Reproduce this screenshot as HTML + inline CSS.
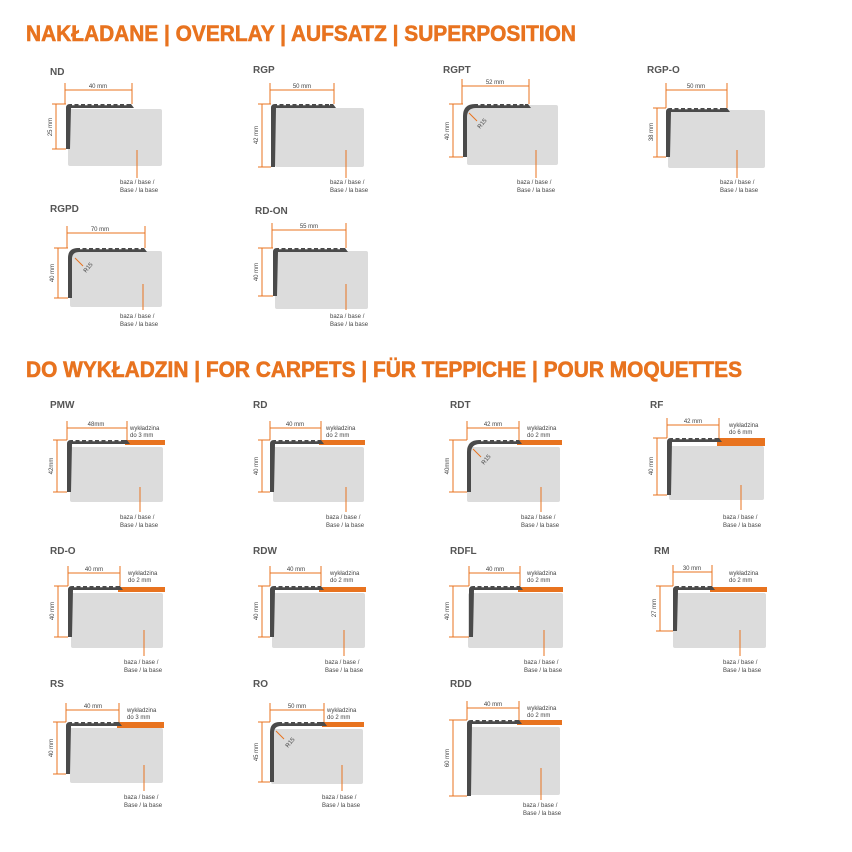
<!DOCTYPE html>
<html><head><meta charset="utf-8"><style>
html,body{margin:0;padding:0;background:#fff}
svg{display:block}
.h{font-family:"Liberation Sans",sans-serif;font-weight:bold;font-size:22px;fill:#e8731f;stroke:#e8731f;stroke-width:0.6}
.t{font-family:"Liberation Sans",sans-serif;font-weight:bold;font-size:10px;fill:#555}
.s{font-family:"Liberation Sans",sans-serif;font-size:6px;fill:#444}
.o{stroke:#e8731f;stroke-width:1;fill:none}
.b{fill:#dcdcdc}
.p{fill:#4a4a4a}
.n{stroke:#fff;stroke-width:1.5;stroke-dasharray:2.5 4;fill:none}
.st{fill:#e8731f}
</style></head><body>
<svg width="852" height="852" viewBox="0 0 852 852" xmlns="http://www.w3.org/2000/svg">
<text class="h" x="26" y="41" textLength="550" lengthAdjust="spacingAndGlyphs">NAKŁADANE | OVERLAY | AUFSATZ | SUPERPOSITION</text>
<text class="h" x="26" y="377" textLength="716" lengthAdjust="spacingAndGlyphs">DO WYKŁADZIN | FOR CARPETS | FÜR TEPPICHE | POUR MOQUETTES</text>

<!-- ND -->
<text class="t" x="50" y="75">ND</text>
<rect class="b" x="68" y="109" width="94" height="57" rx="2"/>
<path class="p" d="M66,149 L66,108 Q66,104 70,104 L131,104 L134,108 L71,108 L70,149Z"/>
<line class="n" x1="72" y1="104.5" x2="128" y2="104.5"/>
<path class="o" d="M65,83V104 M132,83V104 M65,90H132 M52,104H66 M52,149H66 M56,104V149 M137,150V178"/>
<text class="s" x="98" y="88" text-anchor="middle">40 mm</text>
<text class="s" transform="translate(52,127) rotate(-90)" text-anchor="middle">25 mm</text>
<text class="s" x="120" y="184">baza / base /</text><text class="s" x="120" y="192">Base / la base</text>

<!-- RGP -->
<text class="t" x="253" y="73">RGP</text>
<rect class="b" x="275" y="108" width="89" height="59" rx="2"/>
<path class="p" d="M271,167 L271,108 Q271,104 275,104 L333,104 L336,108 L276,108 L275,167Z"/>
<line class="n" x1="277" y1="104.5" x2="330" y2="104.5"/>
<path class="o" d="M270,83V104 M334,83V104 M270,90H334 M258,104H271 M258,167H271 M262,104V167 M346,150V178"/>
<text class="s" x="302" y="88" text-anchor="middle">50 mm</text>
<text class="s" transform="translate(258,135) rotate(-90)" text-anchor="middle">42 mm</text>
<text class="s" x="330" y="184">baza / base /</text><text class="s" x="330" y="192">Base / la base</text>

<!-- RGPT -->
<text class="t" x="443" y="73">RGPT</text>
<rect class="b" x="467" y="105" width="91" height="60" rx="2"/>
<path class="p" d="M463,157 L463,116 Q463,104 475,104 L528,104 L531,108 L476,108 Q467,108 467,117 L467,157Z"/>
<line class="n" x1="478" y1="104.5" x2="525" y2="104.5"/>
<path class="o" d="M462,79V104 M529,79V104 M462,86H529 M449,104H463 M449,157H463 M453,104V157 M536,150V178 M469,113L477,121"/>
<text class="s" x="495" y="84" text-anchor="middle">52 mm</text>
<text class="s" transform="translate(449,131) rotate(-90)" text-anchor="middle">40 mm</text>
<text class="s" transform="translate(480,129) rotate(-50)">R15</text>
<text class="s" x="517" y="184">baza / base /</text><text class="s" x="517" y="192">Base / la base</text>

<!-- RGP-O -->
<text class="t" x="647" y="73">RGP-O</text>
<rect class="b" x="668" y="110" width="97" height="58" rx="2"/>
<path class="p" d="M666,157 L666,112 Q666,108 670,108 L727,108 L730,112 L671,112 L670,157Z"/>
<line class="n" x1="672" y1="108.5" x2="724" y2="108.5"/>
<path class="o" d="M666,83V108 M727,83V108 M666,90H727 M653,108H666 M653,157H666 M657,108V157 M737,150V178"/>
<text class="s" x="696" y="88" text-anchor="middle">50 mm</text>
<text class="s" transform="translate(653,132) rotate(-90)" text-anchor="middle">38 mm</text>
<text class="s" x="720" y="184">baza / base /</text><text class="s" x="720" y="192">Base / la base</text>

<!-- RGPD -->
<text class="t" x="50" y="212">RGPD</text>
<rect class="b" x="70" y="251" width="92" height="56" rx="2"/>
<path class="p" d="M68,298 L68,258 Q68,248 78,248 L144,248 L147,252 L79,252 Q72,252 72,259 L72,298Z"/>
<line class="n" x1="80" y1="248.5" x2="141" y2="248.5"/>
<path class="o" d="M67,226V248 M145,226V248 M67,233H145 M54,248H68 M54,298H68 M58,248V298 M143,284V310 M75,258L83,266"/>
<text class="s" x="100" y="231" text-anchor="middle">70 mm</text>
<text class="s" transform="translate(54,273) rotate(-90)" text-anchor="middle">40 mm</text>
<text class="s" transform="translate(86,273) rotate(-50)">R15</text>
<text class="s" x="120" y="318">baza / base /</text><text class="s" x="120" y="326">Base / la base</text>

<!-- RD-ON -->
<text class="t" x="255" y="214">RD-ON</text>
<rect class="b" x="275" y="251" width="93" height="58" rx="2"/>
<path class="p" d="M273,296 L273,252 Q273,248 277,248 L345,248 L348,252 L278,252 L277,296Z"/>
<line class="n" x1="279" y1="248.5" x2="342" y2="248.5"/>
<path class="o" d="M272,223V248 M346,223V248 M272,230H346 M258,248H273 M258,296H273 M262,248V296 M346,284V310"/>
<text class="s" x="309" y="228" text-anchor="middle">55 mm</text>
<text class="s" transform="translate(258,272) rotate(-90)" text-anchor="middle">40 mm</text>
<text class="s" x="330" y="318">baza / base /</text><text class="s" x="330" y="326">Base / la base</text>

<!-- PMW -->
<text class="t" x="50" y="408">PMW</text>
<rect class="b" x="70" y="447" width="93" height="55" rx="2"/>
<rect class="st" x="125" y="440" width="40" height="5"/>
<path class="p" d="M67,492 L67,444 Q67,440 71,440 L127,440 L130,444 L72,444 L71,492Z"/>
<line class="n" x1="73" y1="440.5" x2="124" y2="440.5"/>
<path class="o" d="M67,421V440 M127,421V440 M67,428H127 M53,440H67 M53,492H67 M57,440V492 M140,487V512"/>
<text class="s" x="96" y="426" text-anchor="middle">48mm</text>
<text class="s" transform="translate(53,466) rotate(-90)" text-anchor="middle">42mm</text>
<text class="s" x="130" y="430">wykładzina</text><text class="s" x="130" y="437">do 3 mm</text>
<text class="s" x="120" y="519">baza / base /</text><text class="s" x="120" y="527">Base / la base</text>

<!-- RD -->
<text class="t" x="253" y="408">RD</text>
<rect class="b" x="273" y="447" width="91" height="55" rx="2"/>
<rect class="st" x="319" y="440" width="46" height="5"/>
<path class="p" d="M270,492 L270,444 Q270,440 274,440 L321,440 L324,444 L275,444 L274,492Z"/>
<line class="n" x1="276" y1="440.5" x2="318" y2="440.5"/>
<path class="o" d="M270,421V440 M321,421V440 M270,428H321 M258,440H270 M258,492H270 M262,440V492 M346,487V512"/>
<text class="s" x="295" y="426" text-anchor="middle">40 mm</text>
<text class="s" transform="translate(258,466) rotate(-90)" text-anchor="middle">40 mm</text>
<text class="s" x="326" y="430">wykładzina</text><text class="s" x="326" y="437">do 2 mm</text>
<text class="s" x="326" y="519">baza / base /</text><text class="s" x="326" y="527">Base / la base</text>

<!-- RDT -->
<text class="t" x="450" y="408">RDT</text>
<rect class="b" x="467" y="447" width="93" height="55" rx="2"/>
<rect class="st" x="517" y="440" width="45" height="5"/>
<path class="p" d="M467,492 L467,452 Q467,440 479,440 L519,440 L522,444 L480,444 Q471,444 471,453 L471,492Z"/>
<line class="n" x1="481" y1="440.5" x2="516" y2="440.5"/>
<path class="o" d="M467,421V440 M519,421V440 M467,428H519 M449,440H467 M449,492H467 M453,440V492 M541,487V512 M473,449L481,457"/>
<text class="s" x="493" y="426" text-anchor="middle">42 mm</text>
<text class="s" transform="translate(449,466) rotate(-90)" text-anchor="middle">40mm</text>
<text class="s" transform="translate(484,465) rotate(-50)">R15</text>
<text class="s" x="527" y="430">wykładzina</text><text class="s" x="527" y="437">do 2 mm</text>
<text class="s" x="521" y="519">baza / base /</text><text class="s" x="521" y="527">Base / la base</text>

<!-- RF -->
<text class="t" x="650" y="408">RF</text>
<rect class="b" x="669" y="446" width="95" height="54" rx="2"/>
<rect class="st" x="717" y="438" width="48" height="8"/>
<path class="p" d="M667,495 L667,442 Q667,438 671,438 L719,438 L722,442 L672,442 L671,495Z"/>
<line class="n" x1="673" y1="438.5" x2="716" y2="438.5"/>
<path class="o" d="M667,418V438 M719,418V438 M667,425H719 M653,438H667 M653,495H667 M657,438V495 M741,485V510"/>
<text class="s" x="693" y="423" text-anchor="middle">42 mm</text>
<text class="s" transform="translate(653,466) rotate(-90)" text-anchor="middle">40 mm</text>
<text class="s" x="729" y="427">wykładzina</text><text class="s" x="729" y="434">do 6 mm</text>
<text class="s" x="723" y="519">baza / base /</text><text class="s" x="723" y="527">Base / la base</text>

<!-- RD-O -->
<text class="t" x="50" y="554">RD-O</text>
<rect class="b" x="71" y="593" width="92" height="55" rx="2"/>
<rect class="st" x="118" y="587" width="47" height="5"/>
<path class="p" d="M68,637 L68,590 Q68,586 72,586 L120,586 L123,590 L73,590 L72,637Z"/>
<line class="n" x1="74" y1="586.5" x2="117" y2="586.5"/>
<path class="o" d="M68,566V586 M120,566V586 M68,573H120 M54,586H68 M54,637H68 M58,586V637 M144,630V656"/>
<text class="s" x="94" y="571" text-anchor="middle">40 mm</text>
<text class="s" transform="translate(54,611) rotate(-90)" text-anchor="middle">40 mm</text>
<text class="s" x="128" y="575">wykładzina</text><text class="s" x="128" y="582">do 2 mm</text>
<text class="s" x="124" y="664">baza / base /</text><text class="s" x="124" y="672">Base / la base</text>

<!-- RDW -->
<text class="t" x="253" y="554">RDW</text>
<rect class="b" x="272" y="593" width="93" height="55" rx="2"/>
<rect class="st" x="319" y="587" width="47" height="5"/>
<path class="p" d="M270,637 L270,590 Q270,586 274,586 L321,586 L324,590 L275,590 L274,637Z"/>
<line class="n" x1="276" y1="586.5" x2="318" y2="586.5"/>
<path class="o" d="M270,566V586 M321,566V586 M270,573H321 M258,586H270 M258,637H270 M262,586V637 M344,630V656"/>
<text class="s" x="296" y="571" text-anchor="middle">40 mm</text>
<text class="s" transform="translate(258,611) rotate(-90)" text-anchor="middle">40 mm</text>
<text class="s" x="330" y="575">wykładzina</text><text class="s" x="330" y="582">do 2 mm</text>
<text class="s" x="325" y="664">baza / base /</text><text class="s" x="325" y="672">Base / la base</text>

<!-- RDFL -->
<text class="t" x="450" y="554">RDFL</text>
<rect class="b" x="468" y="593" width="95" height="55" rx="2"/>
<rect class="st" x="518" y="587" width="45" height="5"/>
<path class="p" d="M469,637 L469,590 Q469,586 473,586 L520,586 L523,590 L474,590 L473,637Z"/>
<line class="n" x1="475" y1="586.5" x2="517" y2="586.5"/>
<path class="o" d="M469,566V586 M520,566V586 M469,573H520 M449,586H469 M449,637H469 M453,586V637 M544,630V656"/>
<text class="s" x="495" y="571" text-anchor="middle">40 mm</text>
<text class="s" transform="translate(449,611) rotate(-90)" text-anchor="middle">40 mm</text>
<text class="s" x="527" y="575">wykładzina</text><text class="s" x="527" y="582">do 2 mm</text>
<text class="s" x="524" y="664">baza / base /</text><text class="s" x="524" y="672">Base / la base</text>

<!-- RM -->
<text class="t" x="654" y="554">RM</text>
<rect class="b" x="673" y="593" width="93" height="55" rx="2"/>
<rect class="st" x="710" y="587" width="57" height="5"/>
<path class="p" d="M673,631 L673,590 Q673,586 677,586 L712,586 L715,590 L678,590 L677,631Z"/>
<line class="n" x1="679" y1="586.5" x2="709" y2="586.5"/>
<path class="o" d="M673,565V586 M712,565V586 M673,572H712 M656,586H673 M656,631H673 M660,586V631 M740,630V656"/>
<text class="s" x="692" y="570" text-anchor="middle">30 mm</text>
<text class="s" transform="translate(656,608) rotate(-90)" text-anchor="middle">27 mm</text>
<text class="s" x="729" y="575">wykładzina</text><text class="s" x="729" y="582">do 2 mm</text>
<text class="s" x="723" y="664">baza / base /</text><text class="s" x="723" y="672">Base / la base</text>

<!-- RS -->
<text class="t" x="50" y="687">RS</text>
<rect class="b" x="70" y="728" width="93" height="55" rx="2"/>
<rect class="st" x="117" y="722" width="47" height="6"/>
<path class="p" d="M66,774 L66,726 Q66,722 70,722 L119,722 L122,726 L71,726 L70,774Z"/>
<line class="n" x1="72" y1="722.5" x2="116" y2="722.5"/>
<path class="o" d="M66,703V722 M119,703V722 M66,710H119 M53,722H66 M53,774H66 M57,722V774 M144,765V791"/>
<text class="s" x="93" y="708" text-anchor="middle">40 mm</text>
<text class="s" transform="translate(53,748) rotate(-90)" text-anchor="middle">40 mm</text>
<text class="s" x="127" y="712">wykładzina</text><text class="s" x="127" y="719">do 3 mm</text>
<text class="s" x="124" y="799">baza / base /</text><text class="s" x="124" y="807">Base / la base</text>

<!-- RO -->
<text class="t" x="253" y="687">RO</text>
<rect class="b" x="271" y="729" width="92" height="55" rx="2"/>
<rect class="st" x="322" y="722" width="42" height="5"/>
<path class="p" d="M270,782 L270,732 Q270,722 280,722 L324,722 L327,726 L281,726 Q274,726 274,733 L274,782Z"/>
<line class="n" x1="282" y1="722.5" x2="321" y2="722.5"/>
<path class="o" d="M270,703V722 M324,703V722 M270,710H324 M258,722H270 M258,782H270 M262,722V782 M342,765V791 M276,731L284,739"/>
<text class="s" x="297" y="708" text-anchor="middle">50 mm</text>
<text class="s" transform="translate(258,752) rotate(-90)" text-anchor="middle">45 mm</text>
<text class="s" transform="translate(288,748) rotate(-50)">R15</text>
<text class="s" x="327" y="712">wykładzina</text><text class="s" x="327" y="719">do 2 mm</text>
<text class="s" x="322" y="799">baza / base /</text><text class="s" x="322" y="807">Base / la base</text>

<!-- RDD -->
<text class="t" x="450" y="687">RDD</text>
<rect class="b" x="468" y="727" width="92" height="68" rx="2"/>
<rect class="st" x="517" y="720" width="45" height="5"/>
<path class="p" d="M467,796 L467,724 Q467,720 471,720 L519,720 L522,724 L472,724 L471,796Z"/>
<line class="n" x1="473" y1="720.5" x2="516" y2="720.5"/>
<path class="o" d="M467,701V720 M519,701V720 M467,708H519 M449,720H467 M449,796H467 M453,720V796 M541,768V800"/>
<text class="s" x="493" y="706" text-anchor="middle">40 mm</text>
<text class="s" transform="translate(449,758) rotate(-90)" text-anchor="middle">60 mm</text>
<text class="s" x="527" y="710">wykładzina</text><text class="s" x="527" y="717">do 2 mm</text>
<text class="s" x="523" y="807">baza / base /</text><text class="s" x="523" y="815">Base / la base</text>
</svg>
</body></html>
